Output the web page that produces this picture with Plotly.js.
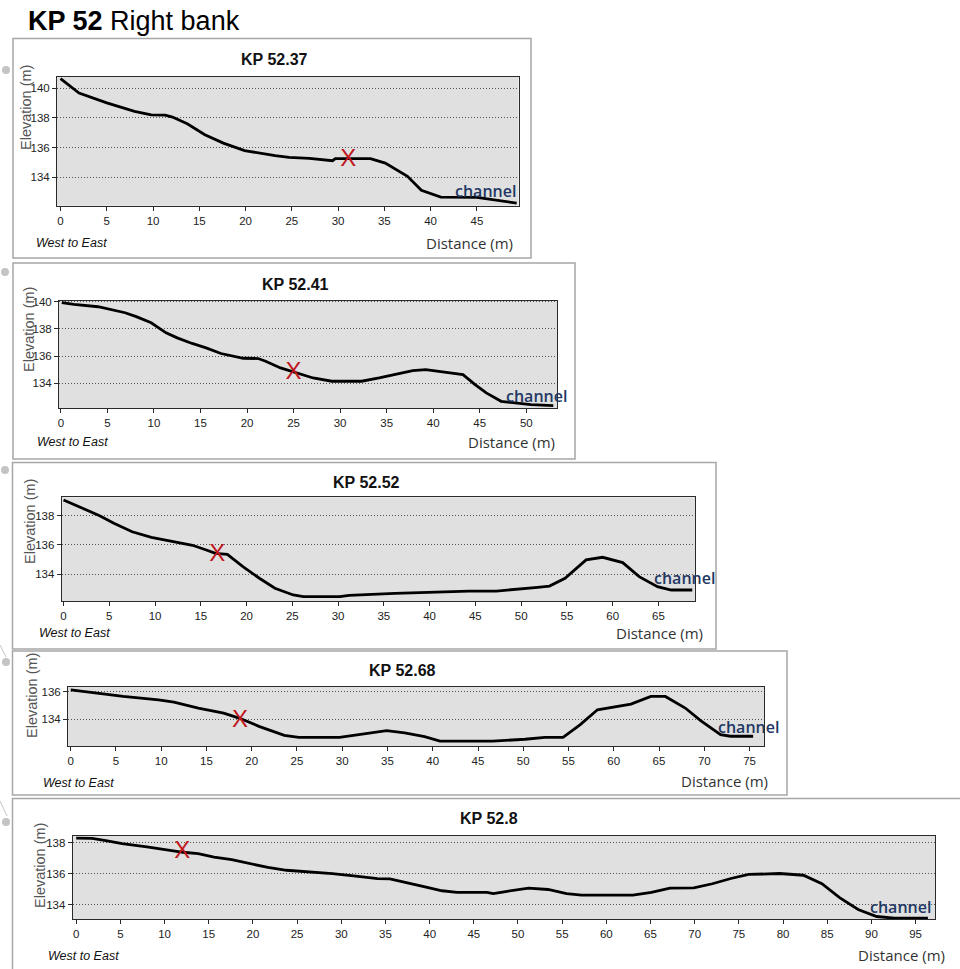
<!DOCTYPE html>
<html>
<head>
<meta charset="utf-8">
<script src="https://cdn.plot.ly/plotly-3.0.1.min.js"></script>
<style>
html,body{margin:0;padding:0;background:#ffffff;}
#chart{width:960px;height:969px;}
</style>
</head>
<body>
<div id="chart"></div>
<script>
// ---------------- DATA ----------------
const sectionNames = ['KP 52.37', 'KP 52.41', 'KP 52.52', 'KP 52.68', 'KP 52.8'];

const dist_5237 = [0, 2.0, 5, 8, 9.8, 11.3, 12.1, 13.7, 15.6, 17.6, 19.9, 21.7, 23.2, 24.7, 26.9, 29.4, 29.7, 33.5, 35.1, 37.5, 39.0, 41.1, 45.0, 49.3];
const elev_5237 = [140.63, 139.66, 139.0, 138.43, 138.2, 138.18, 138.05, 137.6, 136.87, 136.3, 135.8, 135.6, 135.46, 135.35, 135.28, 135.12, 135.26, 135.26, 134.96, 134.07, 133.13, 132.68, 132.66, 132.28];

const dist_5241 = [0.1, 1.4, 4.0, 5.3, 6.9, 8.1, 9.7, 11.3, 12.5, 14.1, 15.6, 17.2, 19.6, 21.2, 22.0, 23.6, 25.1, 27.1, 29.1, 32.3, 34.2, 36.2, 37.8, 39.2, 41.0, 43.2, 44.5, 45.7, 47.3, 48.5, 50.5, 52.9];
const elev_5241 = [139.93, 139.8, 139.63, 139.43, 139.19, 138.9, 138.45, 137.71, 137.34, 136.93, 136.6, 136.19, 135.84, 135.82, 135.62, 135.13, 134.81, 134.39, 134.15, 134.15, 134.39, 134.7, 134.93, 135.0, 134.86, 134.64, 133.9, 133.29, 132.67, 132.6, 132.43, 132.35];

const dist_5252 = [0, 2.0, 4.0, 5.5, 7.5, 9.6, 12.1, 14.1, 15.6, 16.6, 17.9, 19.6, 21.4, 23.1, 25.1, 26.2, 30.2, 31.2, 36.2, 40.2, 44.3, 47.3, 49.8, 51.8, 53.1, 54.8, 57.1, 58.9, 61.1, 62.9, 64.9, 66.4, 68.7];
const elev_5252 = [139.07, 138.55, 137.98, 137.48, 136.9, 136.52, 136.2, 135.98, 135.66, 135.43, 135.36, 134.52, 133.73, 133.05, 132.59, 132.48, 132.48, 132.57, 132.7, 132.8, 132.86, 132.86, 132.98, 133.11, 133.2, 133.73, 134.98, 135.16, 134.8, 133.84, 133.16, 132.93, 132.93];

const dist_5268 = [0, 3.05, 5.8, 9.7, 11.4, 14.1, 16.9, 18.6, 20.8, 23.6, 25.2, 29.7, 32.4, 34.9, 36.9, 39.1, 40.8, 46.6, 50.2, 52.4, 54.4, 56.3, 58.2, 59.3, 61.9, 64.1, 65.7, 67.9, 69.6, 71.8, 72.9, 75.4];
const elev_5268 = [136.12, 135.88, 135.64, 135.4, 135.23, 134.8, 134.43, 134.07, 133.47, 132.82, 132.67, 132.67, 132.92, 133.16, 132.99, 132.72, 132.39, 132.39, 132.53, 132.67, 132.67, 133.59, 134.67, 134.8, 135.08, 135.64, 135.64, 134.8, 133.88, 132.87, 132.75, 132.75];

const dist_528 = [0, 1.8, 3.5, 5.2, 8.0, 10.0, 12.1, 13.8, 15.6, 17.6, 19.7, 21.7, 23.8, 26.6, 29.0, 31.4, 34.1, 35.5, 37.6, 39.6, 41.4, 43.1, 46.5, 47.2, 48.6, 51.2, 53.4, 55.5, 57.2, 63.0, 65.1, 67.2, 69.9, 72.0, 74.1, 76.1, 79.6, 82.3, 84.4, 86.4, 88.5, 90.6, 92.6, 96.4];
const elev_528 = [138.29, 138.27, 138.11, 137.93, 137.73, 137.56, 137.38, 137.29, 137.07, 136.9, 136.65, 136.4, 136.22, 136.12, 136.0, 135.86, 135.68, 135.66, 135.41, 135.13, 134.9, 134.8, 134.8, 134.71, 134.85, 135.07, 134.98, 134.71, 134.62, 134.62, 134.8, 135.07, 135.09, 135.35, 135.69, 135.95, 136.01, 135.9, 135.35, 134.46, 133.69, 133.24, 133.13, 133.13];

// red "X" survey points
const markDist = [31.1, 25.0, 16.8, 18.7, 12.0];
const markElev = [135.19, 134.76, 135.32, 133.88, 137.37];

// ---------------- LAYOUT HELPERS ----------------
const W = 960, H = 969;
const fx = v => v / W;
const fy = v => 1 - v / H;

const distances = [dist_5237, dist_5241, dist_5252, dist_5268, dist_528];
const elevations = [elev_5237, elev_5241, elev_5252, elev_5268, elev_528];

// geometry (pixels): outer box, plot area, axis ranges, label placements
const geo = [
  {box:[13,38.5,531,258], plot:[57,76.7,518.5,205.7], xr:[-0.38,49.5], yr:[132.1,140.76],
   title:[274,59], elev:[26,108], we:[34,243], dist:[515,243], chan:[518,191]},
  {box:[13,263,575,459], plot:[59,300.5,557,408], xr:[-0.2,53.3], yr:[132.18,140.09],
   title:[295,284], elev:[29,330], we:[35,442], dist:[557,442], chan:[569,396]},
  {box:[12.5,462.5,716,649], plot:[61.7,497.3,695,601], xr:[-0.2,69.0], yr:[132.18,139.25],
   title:[366,482], elev:[30,522], we:[37,633], dist:[705,633], chan:[717,578]},
  {box:[12.5,651,787,795], plot:[68,686.7,764,746], xr:[-0.3,76.6], yr:[132.04,136.35],
   title:[402,670], elev:[32,696], we:[41,783], dist:[770,781], chan:[781,727]},
  {box:[12.5,798.5,966,980], plot:[72.7,835.5,935,919.3], xr:[-0.4,97.2], yr:[133.06,138.46],
   title:[489,818], elev:[40,866], we:[46,956], dist:[947,955], chan:[933,907]}
];

const tickFamily = '"Liberation Sans Narrow", "Arial Narrow", "Liberation Sans", Arial, sans-serif';
const sansFamily = '"Liberation Sans", Arial, sans-serif';
const humanFamily = '"Open Sans", "Noto Sans", sans-serif';

const traces = [];
const layout = {
  width: W, height: H,
  margin: {l:0, r:0, t:0, b:0, pad:0},
  paper_bgcolor: '#ffffff',
  plot_bgcolor: '#e0e0e0',
  showlegend: false,
  shapes: [],
  annotations: []
};

geo.forEach((g, i) => {
  const n = i + 1;
  const xa = 'x' + (n === 1 ? '' : n);
  const ya = 'y' + (n === 1 ? '' : n);
  traces.push({
    type: 'scatter', mode: 'lines',
    x: distances[i], y: elevations[i],
    xaxis: xa, yaxis: ya,
    line: {color: '#000000', width: 2.8, shape: 'linear'},
    hoverinfo: 'skip'
  });
  traces.push({
    type: 'scatter', mode: 'text',
    x: [markDist[i]], y: [markElev[i]],
    xaxis: xa, yaxis: ya,
    text: ['X'], textposition: 'middle center',
    textfont: {family: sansFamily, size: 24, color: '#c0171e'},
    hoverinfo: 'skip'
  });

  const axCommon = {
    showline: true, mirror: true, linecolor: '#2a2a2a', linewidth: 1,
    ticks: 'outside', ticklen: 4, tickwidth: 1, tickcolor: '#2a2a2a',
    zeroline: false, fixedrange: true,
    tickfont: {family: tickFamily, size: 11.5, color: '#222222'}
  };
  layout['xaxis' + (n === 1 ? '' : n)] = Object.assign({}, axCommon, {
    domain: [fx(g.plot[0]), fx(g.plot[2])],
    range: g.xr, anchor: ya, tick0: 0, dtick: 5,
    showgrid: false
  });
  layout['yaxis' + (n === 1 ? '' : n)] = Object.assign({}, axCommon, {
    domain: [fy(g.plot[3]), fy(g.plot[1])],
    range: g.yr, anchor: xa, tick0: 0, dtick: 2,
    showgrid: true, gridcolor: '#555555', gridwidth: 1, griddash: '1px,2px'
  });

  // outer panel box
  layout.shapes.push({
    type: 'rect', xref: 'paper', yref: 'paper', layer: 'below',
    x0: fx(g.box[0]), x1: fx(g.box[2]), y0: fy(g.box[3]), y1: fy(g.box[1]),
    line: {color: '#a6a6a6', width: 1.5}, fillcolor: 'rgba(0,0,0,0)'
  });

  // panel title
  layout.annotations.push({
    text: '<b>' + sectionNames[i] + '</b>', xref: 'paper', yref: 'paper',
    x: fx(g.title[0]), y: fy(g.title[1]), xanchor: 'center', yanchor: 'middle',
    showarrow: false, font: {family: tickFamily, size: 16, color: '#111111'}
  });
  // y axis title
  layout.annotations.push({
    text: 'Elevation (m)', xref: 'paper', yref: 'paper', textangle: -90,
    x: fx(g.elev[0]), y: fy(g.elev[1]), xanchor: 'center', yanchor: 'middle',
    showarrow: false, font: {family: sansFamily, size: 14.5, color: '#555555'}
  });
  // West to East
  layout.annotations.push({
    text: '<i>West to East</i>', xref: 'paper', yref: 'paper',
    x: fx(g.we[0]), y: fy(g.we[1]), xanchor: 'left', yanchor: 'middle',
    showarrow: false, font: {family: tickFamily, size: 12.5, color: '#111111'}
  });
  // Distance (m)
  layout.annotations.push({
    text: 'Distance (m)', xref: 'paper', yref: 'paper',
    x: fx(g.dist[0]), y: fy(g.dist[1]), xanchor: 'right', yanchor: 'middle',
    showarrow: false, font: {family: humanFamily, size: 15, color: '#333333'}
  });
  // channel label
  layout.annotations.push({
    text: 'channel', xref: 'paper', yref: 'paper',
    x: fx(g.chan[0]), y: fy(g.chan[1]), xanchor: 'right', yanchor: 'middle',
    showarrow: false, font: {family: humanFamily, size: 16, color: '#1f3864', weight: 600}
  });
});

// page heading
layout.annotations.push({
  text: '<b>KP 52</b> Right bank', xref: 'paper', yref: 'paper',
  x: fx(26), y: fy(21), xanchor: 'left', yanchor: 'middle',
  showarrow: false, font: {family: sansFamily, size: 27, color: '#000000'}
});

// small grey connector dots at the left margin
[[6,70],[5,272],[5,470],[6,662],[6,822]].forEach(p => {
  layout.shapes.push({
    type: 'circle', xref: 'paper', yref: 'paper',
    x0: fx(p[0]-4), x1: fx(p[0]+4), y0: fy(p[1]+4), y1: fy(p[1]-4),
    fillcolor: '#c4c4c4', line: {width: 0}
  });
});
layout.shapes.push({type:'line', xref:'paper', yref:'paper', x0:fx(0), y0:fy(645), x1:fx(6), y1:fy(657), line:{color:'#c4c4c4', width:1}});
layout.shapes.push({type:'line', xref:'paper', yref:'paper', x0:fx(0), y0:fy(801), x1:fx(7), y1:fy(816), line:{color:'#c4c4c4', width:1}});

Plotly.newPlot('chart', traces, layout, {displayModeBar: false, staticPlot: true});
</script>
</body>
</html>
